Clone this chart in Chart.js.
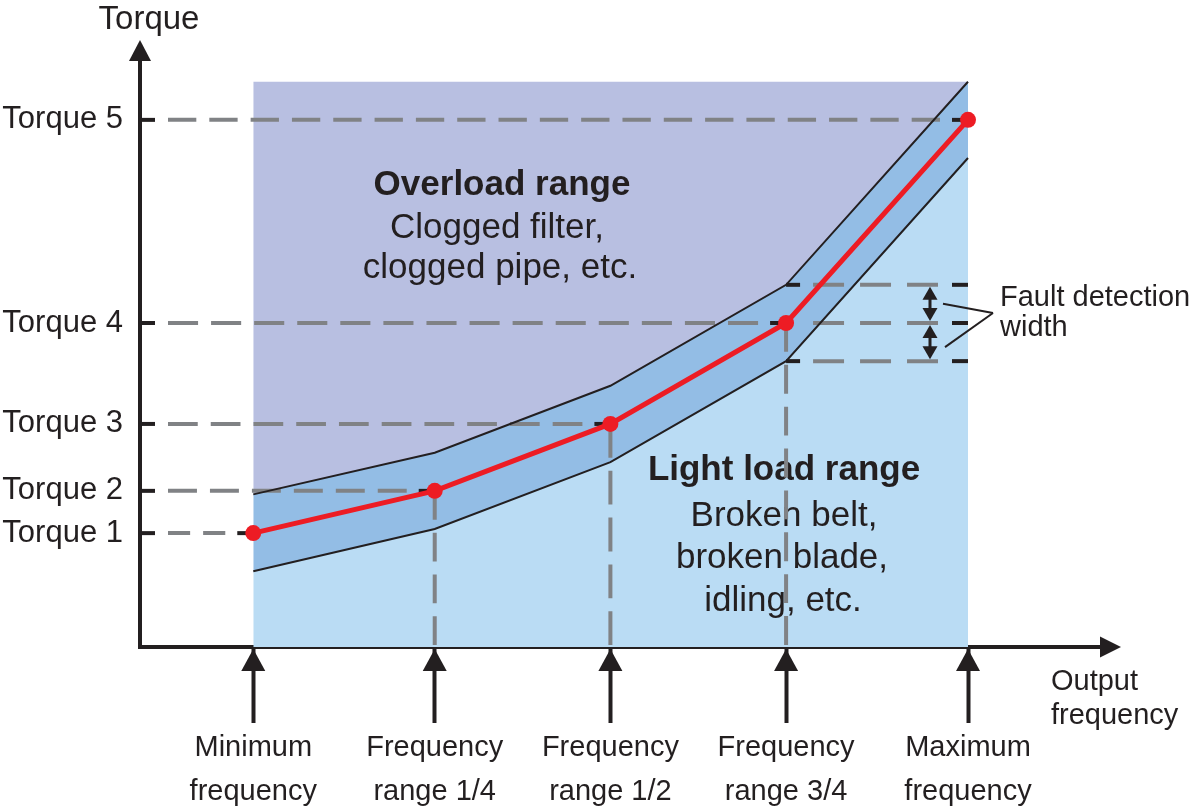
<!DOCTYPE html>
<html>
<head>
<meta charset="utf-8">
<script src="https://cdn.jsdelivr.net/npm/chart.js@4.4.1/dist/chart.umd.min.js"></script>
<style>
  html, body { margin: 0; padding: 0; background: #fff; }
  #wrap { width: 1200px; height: 811px; }
</style>
</head>
<body>
<div id="wrap"><canvas id="chart" width="1200" height="811"></canvas></div>
<script>
// frequency positions on the x axis (0..100) and their labels
const freqPos = [11.8, 30.7, 49.0, 67.3, 86.25];
const freqLabels = [
    ["Minimum", "frequency"],
    ["Frequency", "range 1/4"],
    ["Frequency", "range 1/2"],
    ["Frequency", "range 3/4"],
    ["Maximum", "frequency"]
];
// set torque at each frequency (y axis, 0..100)
const torqueVals = [19.4, 26.6, 38.0, 55.2, 89.8];
const torqueLabels = ["Torque 1", "Torque 2", "Torque 3", "Torque 4", "Torque 5"];
// fault detection band around the set torque
const bandUpper = [26.0, 33.1, 44.5, 61.7, 96.3];
const bandLower = [12.9, 20.1, 31.5, 48.7, 83.3];
// top edge of the overload range
const rangeTop = [96.3, 96.3, 96.3, 96.3, 96.3];

const INK = "#231f20";
const RED = "#ed1c24";
const GRAY = "#808285";
const PURPLE = "#b8bfe1";
const BAND = "#93bde5";
const LIGHT = "#badcf4";
const BODY = "'Liberation Sans', Arial, sans-serif";

const pts = (ys) => freqPos.map((x, i) => ({ x: x, y: ys[i] }));

function seg(ctx, x1, y1, x2, y2) {
    ctx.beginPath();
    ctx.moveTo(x1, y1);
    ctx.lineTo(x2, y2);
    ctx.stroke();
}

// dashed run whose dashes fit exactly between both ends
function dashRun(ctx, x1, y1, x2, y2, dash, gap) {
    const len = Math.hypot(x2 - x1, y2 - y1);
    const n = Math.max(1, Math.round((len + gap) / (dash + gap)));
    const d = (len - (n - 1) * gap) / n;
    ctx.setLineDash([d, gap]);
    seg(ctx, x1, y1, x2, y2);
    ctx.setLineDash([]);
}

function tri(ctx, tx, ty, bx1, by1, bx2, by2) {
    ctx.beginPath();
    ctx.moveTo(tx, ty);
    ctx.lineTo(bx1, by1);
    ctx.lineTo(bx2, by2);
    ctx.closePath();
    ctx.fill();
}

const decor = {
    id: "decor",
    beforeDatasetsDraw(chart) {
        const { ctx, chartArea: a, scales: { x, y } } = chart;
        ctx.save();

        // range captions
        ctx.fillStyle = INK;
        ctx.textAlign = "center";
        ctx.textBaseline = "middle";
        ctx.font = "bold 35px " + BODY;
        ctx.fillText("Overload range", 502, 185);
        ctx.fillText("Light load range", 784, 470);
        ctx.font = "35px " + BODY;
        ctx.fillText("Clogged filter,", 497, 228);
        ctx.fillText("clogged pipe, etc.", 500, 268);
        ctx.fillText("Broken belt,", 784, 516);
        ctx.fillText("broken blade,", 782, 558);
        ctx.fillText("idling, etc.", 783, 601);

        // guide lines from the axes to each set point
        ctx.lineWidth = 4;
        ctx.lineCap = "butt";
        torqueVals.forEach((t, i) => {
            const px = x.getPixelForValue(freqPos[i]);
            const py = y.getPixelForValue(t);
            ctx.strokeStyle = INK;
            seg(ctx, a.left, py, a.left + 15, py);
            seg(ctx, px - 16, py, px - 6, py);
            ctx.strokeStyle = GRAY;
            dashRun(ctx, a.left + 28, py, px - 28, py, 29, 13);
            if (i > 0 && i < torqueVals.length - 1) {
                dashRun(ctx, px, py, px, a.bottom - 2, 30, 13);
            }
        });

        // fault detection rows at frequency range 3/4
        const k = 3;
        const xs = x.getPixelForValue(freqPos[k]);
        const xe = x.getPixelForValue(freqPos[freqPos.length - 1]);
        [bandUpper[k], torqueVals[k], bandLower[k]].forEach((v, j) => {
            const py = y.getPixelForValue(v);
            ctx.strokeStyle = INK;
            if (j !== 1) seg(ctx, xs, py, xs + 14, py);
            seg(ctx, xe - 16, py, xe, py);
            ctx.strokeStyle = GRAY;
            dashRun(ctx, xs + 27, py, xe - 30, py, 26, 16);
        });
        ctx.restore();
    },
    afterDraw(chart) {
        const { ctx, chartArea: a, scales: { x, y } } = chart;
        ctx.save();
        ctx.fillStyle = INK;
        ctx.strokeStyle = INK;

        // axis arrowheads and corner
        ctx.fillRect(a.left - 2, a.bottom - 2, 4, 4);
        tri(ctx, a.left, 40, a.left - 11, a.top + 1, a.left + 11, a.top + 1);
        tri(ctx, a.right + 21, a.bottom, a.right, a.bottom - 10.5, a.right, a.bottom + 10.5);

        // arrowheads on the frequency ticks
        freqPos.forEach((f) => {
            const px = x.getPixelForValue(f);
            tri(ctx, px, a.bottom + 2, px - 12, a.bottom + 24, px + 12, a.bottom + 24);
        });

        // axis titles
        ctx.textBaseline = "middle";
        ctx.textAlign = "center";
        ctx.font = "33px " + BODY;
        ctx.fillText("Torque", 149, 20);
        ctx.textAlign = "left";
        ctx.font = "29px " + BODY;
        ctx.fillText("Output", 1051, 682);
        ctx.fillText("frequency", 1051, 716);

        // fault detection width markers
        const k = 3;
        const xe = x.getPixelForValue(freqPos[freqPos.length - 1]);
        const yu = y.getPixelForValue(bandUpper[k]);
        const ym = y.getPixelForValue(torqueVals[k]);
        const yl = y.getPixelForValue(bandLower[k]);
        const ax = xe - 38;
        ctx.lineWidth = 3;
        [[yu, ym], [ym, yl]].forEach(([t, b]) => {
            seg(ctx, ax, t + 12, ax, b - 12);
            tri(ctx, ax, t + 2, ax - 7.5, t + 15, ax + 7.5, t + 15);
            tri(ctx, ax, b - 2, ax - 7.5, b - 15, ax + 7.5, b - 15);
        });
        ctx.lineWidth = 2;
        seg(ctx, ax + 13, yu + 19, xe + 25, ym - 10);
        seg(ctx, ax + 15, yl - 14, xe + 25, ym - 10);
        ctx.font = "29px " + BODY;
        ctx.fillText("Fault detection", xe + 32, 298);
        ctx.fillText("width", xe + 32, 328);
        ctx.restore();
    }
};

const ctx = document.getElementById("chart").getContext("2d");

const chart = new Chart(ctx, {
    type: "line",
    data: {
        datasets: [
            {
                label: "Set torque",
                data: pts(torqueVals),
                borderColor: RED,
                backgroundColor: RED,
                borderWidth: 5,
                pointRadius: 8,
                pointBorderWidth: 0,
                fill: false,
                tension: 0
            },
            {
                label: "Overload range",
                data: pts(rangeTop),
                borderColor: "rgba(0,0,0,0)",
                borderWidth: 0,
                backgroundColor: PURPLE,
                pointRadius: 0,
                fill: 2
            },
            {
                label: "Upper limit",
                data: pts(bandUpper),
                borderColor: INK,
                borderWidth: 2,
                backgroundColor: BAND,
                pointRadius: 0,
                fill: 3
            },
            {
                label: "Lower limit",
                data: pts(bandLower),
                borderColor: INK,
                borderWidth: 2,
                backgroundColor: LIGHT,
                pointRadius: 0,
                fill: "origin"
            }
        ]
    },
    options: {
        responsive: false,
        animation: false,
        events: [],
        layout: { padding: { top: 60, right: 100, left: 0, bottom: 0 } },
        plugins: {
            legend: { display: false },
            tooltip: { enabled: false },
            filler: { drawTime: "beforeDatasetsDraw" }
        },
        scales: {
            x: {
                type: "linear",
                min: 0,
                max: 100,
                afterFit: (s) => { s.height = 164; },
                afterBuildTicks: (s) => { s.ticks = freqPos.map((v) => ({ value: v })); },
                grid: { drawOnChartArea: false, drawTicks: true, tickLength: 76, tickWidth: 4, tickColor: INK },
                border: { color: INK, width: 4 },
                ticks: {
                    autoSkip: false,
                    maxRotation: 0,
                    padding: 3,
                    color: INK,
                    font: { family: BODY, size: 29, lineHeight: 44 / 29 },
                    callback: (v, i) => freqLabels[i]
                }
            },
            y: {
                type: "linear",
                min: 0,
                max: 100,
                afterFit: (s) => { s.width = 140; },
                afterBuildTicks: (s) => { s.ticks = torqueVals.map((v) => ({ value: v })); },
                grid: { drawOnChartArea: false, drawTicks: false },
                border: { color: INK, width: 4 },
                ticks: {
                    autoSkip: false,
                    padding: 17,
                    color: INK,
                    font: { family: BODY, size: 31 },
                    callback: (v, i) => torqueLabels[i]
                }
            }
        }
    },
    plugins: [decor]
});
</script>
</body>
</html>
